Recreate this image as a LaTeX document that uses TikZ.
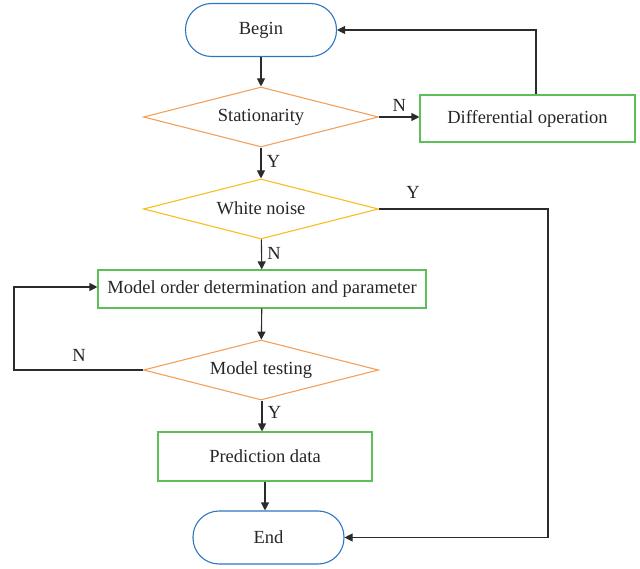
\documentclass[tikz,border=0pt]{standalone}
\usepackage{fontspec}
\setmainfont{Liberation Serif}
\usetikzlibrary{shapes.geometric,arrows.meta}
\definecolor{cblue}{HTML}{2E75C0}
\definecolor{corange}{HTML}{F5A05A}
\definecolor{cyellow}{HTML}{F8BE1E}
\definecolor{cgreen}{HTML}{5CBF5A}
\definecolor{cline}{HTML}{2B2B2B}
\begin{document}
\begin{tikzpicture}[x=1pt,y=-1pt,
  every node/.style={font=\fontsize{18.5}{20}\selectfont, text=black!85},
  term/.style={draw=cblue, line width=1.1pt, rounded corners=26pt, minimum width=151pt, minimum height=53pt, inner sep=0pt},
  decide/.style={diamond, shape aspect=3.9, line width=1.1pt, minimum width=235pt, minimum height=60pt, inner sep=0pt},
  proc/.style={draw=cgreen, line width=1.1pt, inner sep=0pt},
  conn/.style={draw=cline, line width=1.1pt, -{Triangle[length=8pt,width=8pt]}},
  lbl/.style={font=\fontsize{18.5}{20}\selectfont}]
\useasboundingbox (0,0) rectangle (640,569);
\node[term] (begin) at (261,30) {Begin};
\node[decide, draw=corange] (stat) at (261,117) {\raisebox{1pt}{Stationarity}};
\node[proc, minimum width=215pt, minimum height=47pt] (diff) at (527.5,118.5) {Differential operation};
\node[decide, draw=cyellow] (white) at (261,209) {\raisebox{1pt}{White noise}};
\node[proc, minimum width=328pt, minimum height=38pt] (model) at (262,289) {Model order determination and parameter};
\node[decide, draw=corange] (test) at (261,370) {\raisebox{1pt}{Model testing}};
\node[proc, minimum width=214pt, minimum height=49pt] (pred) at (265,456.5) {Prediction data};
\node[term] (end) at (268.5,537.5) {End};
\coordinate (c1) at (536,30);
\coordinate (c2) at (548,209);
\coordinate (c3) at (548,537.5);
\coordinate (c4) at (14,370);
\coordinate (c5) at (14,287);
\draw[conn] (begin) -- (stat);
\draw[conn] (stat.east) -- (diff.west |- stat.east) node[lbl, midway, above=2pt] {N};
\draw[conn] (diff.north -| c1) -- (c1) -- (begin.east);
\draw[conn] (stat) -- (white) node[lbl, pos=0.45, right=2pt] {Y};
\draw[conn] (white.east) -- (c2) -- (c3) -- (end.east);
\node[lbl] (ylab) at (413,192) {Y};
\draw[conn] (white) -- (model) node[lbl, pos=0.45, right=2pt] {N};
\draw[conn] (model) -- (test);
\draw[conn] (test.west) -- (c4) -- (c5) -- (model.west |- c5);
\node[lbl] (nlab) at (79,355) {N};
\draw[conn] (test.south -| 262,0) -- (pred.north -| 262,0) node[lbl, pos=0.4, right=2pt] {Y};
\draw[conn] (pred.south) -- (end.north -| pred.south);
\end{tikzpicture}
\end{document}
